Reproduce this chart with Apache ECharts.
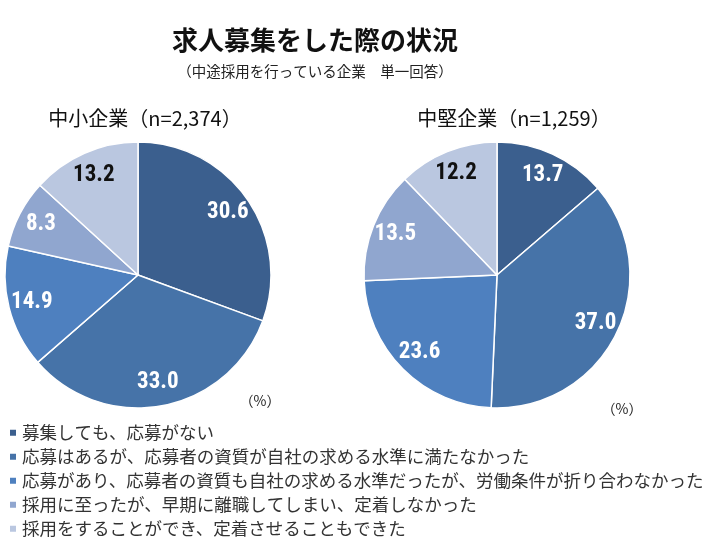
<!DOCTYPE html>
<html>
<head>
    <meta charset="utf-8">
    <title>求人募集をした際の状況</title>
    <script src="https://cdn.jsdelivr.net/npm/echarts@6/dist/echarts.min.js"></script>
    <style>
        html,body{
            height: 100%;
            margin: 0;
            padding: 0;
            background: #fff;
        }
    </style>
</head>
<body>
    <div id="main" style="width: 713px;height:543px;"></div>
    <script type="text/javascript">
    // 回答カテゴリ
    var categories = [
        '募集しても、応募がない',
        '応募はあるが、応募者の資質が自社の求める水準に満たなかった',
        '応募があり、応募者の資質も自社の求める水準だったが、労働条件が折り合わなかった',
        '採用に至ったが、早期に離職してしまい、定着しなかった',
        '採用をすることができ、定着させることもできた'
    ];
    // 中小企業 (n=2,374)
    var smeValues = [30.6, 33.0, 14.9, 8.3, 13.2];
    // 中堅企業 (n=1,259)
    var midValues = [13.7, 37.0, 23.6, 13.5, 12.2];

    var colors = ['#3b5f8e', '#4673a8', '#4e80bf', '#90a6cf', '#bac7e0'];
    var labelColors = ['#fff', '#fff', '#fff', '#fff', '#111'];
    var jpFont = '"Noto Sans CJK JP", sans-serif';
    var numFont = '"Liberation Sans Narrow", "Roboto Condensed", Roboto, sans-serif';

    var makeData = function(values){
        var arr = [];
        for(var i = 0; i < values.length; i++){
            arr.push({
                name: categories[i],
                value: values[i],
                itemStyle: { color: colors[i] },
                label: { color: labelColors[i] }
            });
        }
        return arr;
    };

    // 扇形本体
    var pieBase = function(cx, values){
        return {
            type: 'pie',
            center: [cx, 275],
            radius: 133,
            startAngle: 90,
            clockwise: true,
            silent: true,
            label: { show: false },
            labelLine: { show: false },
            itemStyle: { borderColor: '#fff', borderWidth: 1.5 },
            data: makeData(values)
        };
    };

    // ラベル用の透明リング (半径の約8割に数値を置く)
    var pieLabels = function(cx, values){
        var d = makeData(values);
        for(var i = 0; i < d.length; i++){
            d[i].itemStyle = { color: 'rgba(0,0,0,0)' };
        }
        return {
            type: 'pie',
            center: [cx, 275],
            radius: [80, 133],
            startAngle: 90,
            clockwise: true,
            silent: true,
            label: {
                show: true,
                position: 'inside',
                fontFamily: numFont,
                fontWeight: 'bold',
                fontSize: 23,
                formatter: function(p){ return p.value.toFixed(1); }
            },
            labelLine: { show: false },
            data: d
        };
    };

    var myChart = echarts.init(document.getElementById('main'));

    var option = {
        animation: false,
        title: [
            {
                text: '求人募集をした際の状況',
                left: 310, top: 22, textAlign: 'center',
                textStyle: { fontFamily: jpFont, fontSize: 26, fontWeight: 'bold', color: '#111' }
            },
            {
                text: '（中途採用を行っている企業　単一回答）',
                left: 310, top: 59, textAlign: 'center',
                textStyle: { fontFamily: jpFont, fontSize: 14.5, fontWeight: 'normal', color: '#222' }
            },
            {
                text: '中小企業（n=2,374）',
                left: 140, top: 103, textAlign: 'center',
                textStyle: { fontFamily: jpFont, fontSize: 20, fontWeight: 'normal', color: '#111' }
            },
            {
                text: '中堅企業（n=1,259）',
                left: 509, top: 103, textAlign: 'center',
                textStyle: { fontFamily: jpFont, fontSize: 20, fontWeight: 'normal', color: '#111' }
            },
            {
                text: '（%）',
                left: 255, top: 389, textAlign: 'center',
                textStyle: { fontFamily: jpFont, fontSize: 14, fontWeight: 'normal', color: '#222' }
            },
            {
                text: '（%）',
                left: 617, top: 397, textAlign: 'center',
                textStyle: { fontFamily: jpFont, fontSize: 14, fontWeight: 'normal', color: '#222' }
            }
        ],
        legend: {
            orient: 'vertical',
            left: 3,
            top: 419,
            itemGap: 6.5,
            itemWidth: 8,
            itemHeight: 8,
            icon: 'rect',
            selectedMode: false,
            textStyle: { fontFamily: jpFont, fontSize: 17.5, lineHeight: 17, color: '#333' },
            data: categories
        },
        series: [
            pieBase(138, smeValues),
            pieBase(497, midValues),
            pieLabels(138, smeValues),
            pieLabels(497, midValues)
        ]
    };

    myChart.setOption(option);
    </script>
</body>
</html>
